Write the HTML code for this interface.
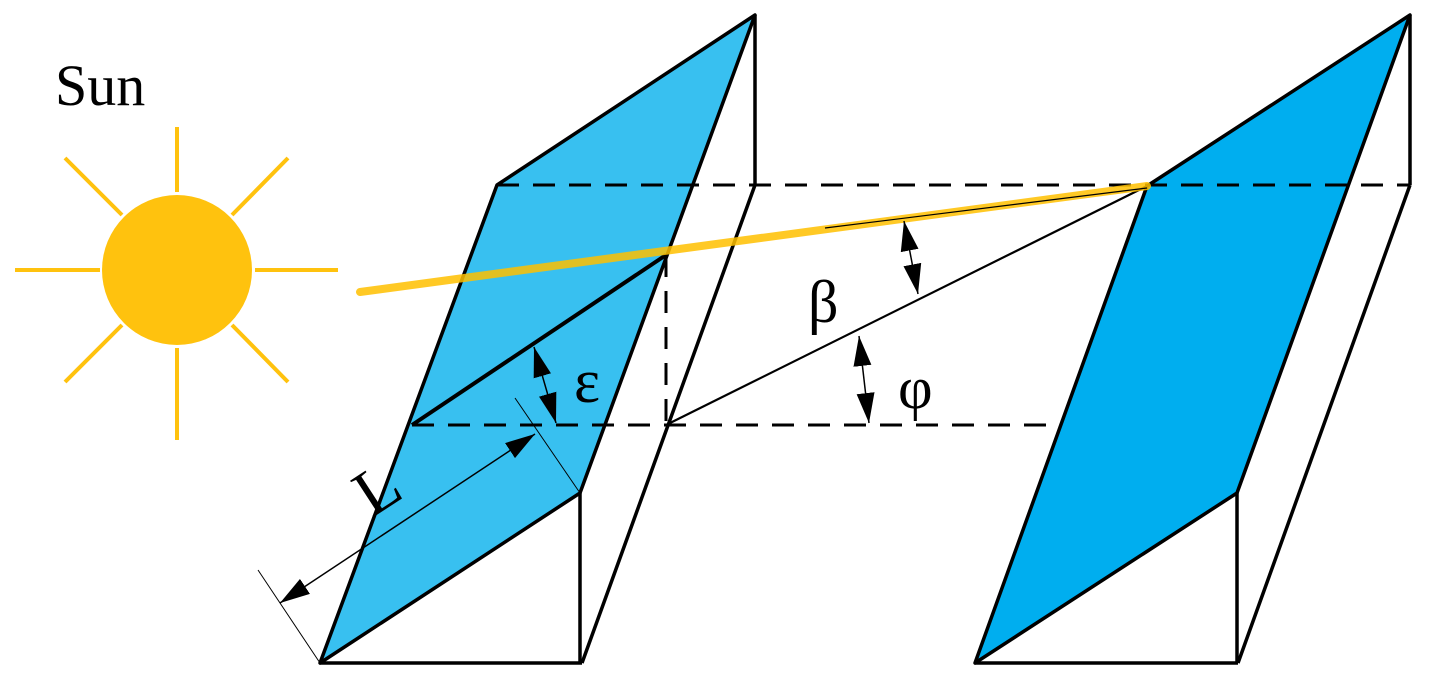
<!DOCTYPE html>
<html><head><style>html,body{margin:0;padding:0;background:#fff}svg{display:block}</style></head><body>
<svg width="1436" height="686" viewBox="0 0 1436 686" xmlns="http://www.w3.org/2000/svg">
<defs>
<marker id="b" viewBox="0 0 10 10" refX="10" refY="5" markerWidth="30" markerHeight="30" markerUnits="userSpaceOnUse" orient="auto-start-reverse"><path d="M0,2L10,5L0,8z" fill="#000"/></marker>
</defs>
<g stroke="#FFC20E" stroke-width="4">
<line x1="15" y1="270" x2="100" y2="270"/><line x1="255" y1="270" x2="338" y2="270"/>
<line x1="177" y1="127" x2="177" y2="192"/><line x1="177" y1="348" x2="177" y2="440"/>
<line x1="65" y1="158" x2="122" y2="215"/><line x1="288" y1="158" x2="232" y2="215"/>
<line x1="65" y1="382" x2="122" y2="325"/><line x1="288" y1="382" x2="232" y2="325"/>
</g>
<circle cx="177" cy="270" r="75" fill="#FFC20E"/>
<text x="55" y="105" font-family="Liberation Serif, serif" font-size="58">Sun</text>
<g fill="none" stroke="#000" stroke-width="3.5">
<line x1="755" y1="15" x2="755" y2="185"/>
<line x1="755" y1="185" x2="582" y2="663"/>
<line x1="580" y1="493" x2="580" y2="663"/>
<line x1="320" y1="663" x2="582" y2="663"/>
<line x1="1410" y1="15" x2="1410" y2="185"/>
<line x1="1410" y1="185" x2="1238" y2="663"/>
<line x1="1237" y1="493" x2="1237" y2="663"/>
<line x1="975" y1="663" x2="1238" y2="663"/>
</g>
<polygon points="320,663 497,185 755,15 580,493" fill="#38C0F0" stroke="#000" stroke-width="3.5" stroke-linejoin="round"/>
<polygon points="975,663 1147,186 1410,15 1237,493" fill="#00AEEF" stroke="#000" stroke-width="3.5" stroke-linejoin="round"/>
<g fill="none" stroke="#000" stroke-width="3" stroke-dasharray="22,14">
<line x1="497" y1="185" x2="1410" y2="185"/>
<line x1="412" y1="425" x2="1060" y2="425"/>
<line x1="666" y1="255" x2="666" y2="425"/>
</g>
<line x1="412" y1="425" x2="666" y2="255" stroke="#000" stroke-width="4"/>
<line x1="666" y1="425" x2="1147" y2="186" stroke="#000" stroke-width="2.2"/>
<line x1="360" y1="292" x2="1147" y2="186" stroke="#FFC000" stroke-width="8" stroke-linecap="round" opacity="0.85"/>
<line x1="825" y1="228" x2="1147" y2="188" stroke="#000" stroke-width="1.2"/>
<g stroke="#000" stroke-width="1">
<line x1="258" y1="570" x2="320" y2="663"/>
<line x1="515" y1="398" x2="580" y2="493"/>
</g>
<line x1="280" y1="603" x2="535" y2="434" stroke="#000" stroke-width="1.5" marker-start="url(#b)" marker-end="url(#b)"/>
<text x="0" y="0" font-family="Liberation Serif, serif" font-size="66" transform="translate(372,518) rotate(-33)">L</text>
<line x1="534" y1="347" x2="556" y2="423" stroke="#000" stroke-width="1.5" marker-start="url(#b)" marker-end="url(#b)"/>
<text x="574" y="402" font-family="Liberation Serif, serif" font-size="62">ε</text>
<line x1="904" y1="221" x2="918" y2="294" stroke="#000" stroke-width="1.5" marker-start="url(#b)" marker-end="url(#b)"/>
<text x="808" y="322" font-family="Liberation Serif, serif" font-size="60">β</text>
<line x1="859" y1="336" x2="869" y2="423" stroke="#000" stroke-width="1.5" marker-start="url(#b)" marker-end="url(#b)"/>
<text x="898" y="408" font-family="Liberation Serif, serif" font-size="60">φ</text>
</svg>
</body></html>
